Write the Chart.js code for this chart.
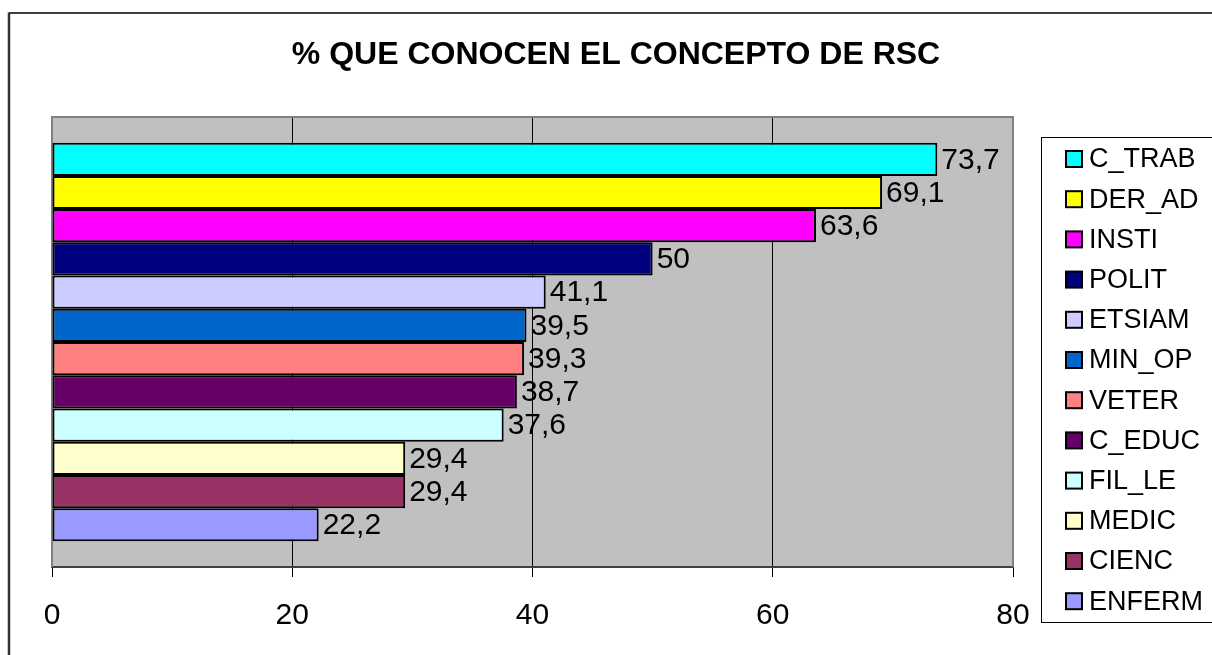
<!DOCTYPE html>
<html>
<head>
<meta charset="utf-8">
<script src="https://cdn.jsdelivr.net/npm/chart.js@4.4.0/dist/chart.umd.min.js"></script>
<style>
  html, body { margin: 0; padding: 0; background: #fff; }
  #wrap { width: 1212px; height: 655px; }
</style>
</head>
<body>
<div id="wrap"><canvas id="chart"></canvas></div>
<script>
// Series (one bar each), top to bottom as in the legend
const SERIES = ['C_TRAB', 'DER_AD', 'INSTI', 'POLIT', 'ETSIAM', 'MIN_OP', 'VETER', 'C_EDUC', 'FIL_LE', 'MEDIC', 'CIENC', 'ENFERM'];
const VALUES = [73.7, 69.1, 63.6, 50, 41.1, 39.5, 39.3, 38.7, 37.6, 29.4, 29.4, 22.2];
const COLORS = ['#00ffff', '#ffff00', '#ff00ff', '#000080', '#ccccff', '#0066cc', '#ff8080', '#660066', '#ccffff', '#ffffcc', '#993366', '#9999ff'];
const X_TICKS = [0, 20, 40, 60, 80];
const TITLE = '% QUE CONOCEN EL CONCEPTO DE RSC';

const FONT = "'Liberation Sans', Arial, sans-serif";
const PLOT_BG = '#c0c0c0';

const fmt = v => String(v).replace('.', ',');

/* ── Background, frame, title and plot area ────────────── */
const framePlugin = {
    id: 'frame',
    beforeDraw(chart) {
        const { ctx, chartArea: a } = chart;
        ctx.save();
        ctx.fillStyle = '#fff';
        ctx.fillRect(0, 0, chart.width, chart.height);
        // outer chart border (right and bottom fall outside the picture)
        ctx.strokeStyle = '#000';
        ctx.lineWidth = 1.5;
        ctx.beginPath();
        ctx.moveTo(9, 13);
        ctx.lineTo(chart.width + 5, 13);
        ctx.stroke();
        ctx.strokeStyle = '#333';
        ctx.lineWidth = 2.5;
        ctx.beginPath();
        ctx.moveTo(9, chart.height + 5);
        ctx.lineTo(9, 12.5);
        ctx.stroke();
        // title, centred on the whole chart
        ctx.fillStyle = '#000';
        ctx.font = `bold 32px ${FONT}`;
        ctx.textAlign = 'center';
        ctx.textBaseline = 'middle';
        ctx.fillText(TITLE, 616, 55);
        ctx.fillStyle = PLOT_BG;
        ctx.fillRect(a.left, a.top, a.right - a.left, a.bottom - a.top);
        ctx.restore();
    },
    beforeDatasetsDraw(chart) {
        const { ctx, chartArea: a } = chart;
        ctx.save();
        ctx.strokeStyle = '#808080';
        ctx.lineWidth = 2;
        ctx.beginPath();
        ctx.moveTo(a.left, a.bottom);
        ctx.lineTo(a.left, a.top);
        ctx.lineTo(a.right, a.top);
        ctx.lineTo(a.right, a.bottom);
        ctx.stroke();
        ctx.restore();
    }
};

/* ── Value labels at bar ends ──────────────────────────── */
const valueLabels = {
    id: 'valueLabels',
    afterDatasetsDraw(chart) {
        const { ctx } = chart;
        ctx.save();
        ctx.font = `30px ${FONT}`;
        ctx.fillStyle = '#000';
        ctx.textAlign = 'left';
        ctx.textBaseline = 'middle';
        chart.data.datasets.forEach((ds, i) => {
            const el = chart.getDatasetMeta(i).data[0];
            if (!el) return;
            ctx.fillText(fmt(ds.data[0]), el.x + 4, el.y + 1);
        });
        ctx.restore();
    }
};

/* ── Boxed legend on the right ─────────────────────────── */
const boxLegend = {
    id: 'boxLegend',
    afterDraw(chart) {
        const { ctx } = chart;
        const left = 1041, top = 137, height = 485;
        const rowStep = 40.2, firstRow = 159;
        ctx.save();
        ctx.strokeStyle = '#000';
        ctx.lineWidth = 1;
        ctx.strokeRect(left + 0.5, top + 0.5, 200, height);
        ctx.font = `27px ${FONT}`;
        ctx.textBaseline = 'middle';
        chart.data.datasets.forEach((ds, i) => {
            const y = firstRow + i * rowStep;
            ctx.fillStyle = ds.backgroundColor;
            ctx.fillRect(1066, y - 8, 16, 16);
            ctx.strokeStyle = '#000';
            ctx.lineWidth = 2;
            ctx.strokeRect(1066, y - 8, 16, 16);
            ctx.fillStyle = '#000';
            ctx.fillText(ds.label, 1089, y + 1);
        });
        ctx.restore();
    }
};

new Chart(document.getElementById('chart'), {
    type: 'bar',
    data: {
        labels: [''],
        datasets: SERIES.map((name, i) => ({
            label: name,
            data: [VALUES[i]],
            backgroundColor: COLORS[i],
            borderColor: '#000',
            borderWidth: 2,
            borderSkipped: false,
            barPercentage: 1,
            categoryPercentage: 0.886,
        }))
    },
    options: {
        indexAxis: 'y',
        responsive: true,
        maintainAspectRatio: false,
        animation: false,
        layout: { padding: { left: 52, right: 199, top: 117, bottom: 0 } },
        plugins: {
            legend: { display: false },
            tooltip: { enabled: false },
            title: { display: false }
        },
        scales: {
            x: {
                min: X_TICKS[0],
                max: X_TICKS[X_TICKS.length - 1],
                afterBuildTicks(scale) { scale.ticks = X_TICKS.map(v => ({ value: v })); },
                grid: {
                    color: ctx => (ctx.tick && ctx.tick.value > X_TICKS[0] && ctx.tick.value < X_TICKS[X_TICKS.length - 1]) ? '#000' : 'rgba(0,0,0,0)',
                    tickColor: '#000',
                    tickLength: 10,
                    lineWidth: 1,
                },
                border: { display: true, color: '#404040', width: 2 },
                ticks: {
                    color: '#000',
                    padding: 21,
                    maxRotation: 0,
                    font: { family: FONT, size: 30 },
                    callback: v => v
                }
            },
            y: {
                display: false,
                offset: true,
                grid: { display: false }
            }
        }
    },
    plugins: [framePlugin, valueLabels, boxLegend]
});
</script>
</body>
</html>
